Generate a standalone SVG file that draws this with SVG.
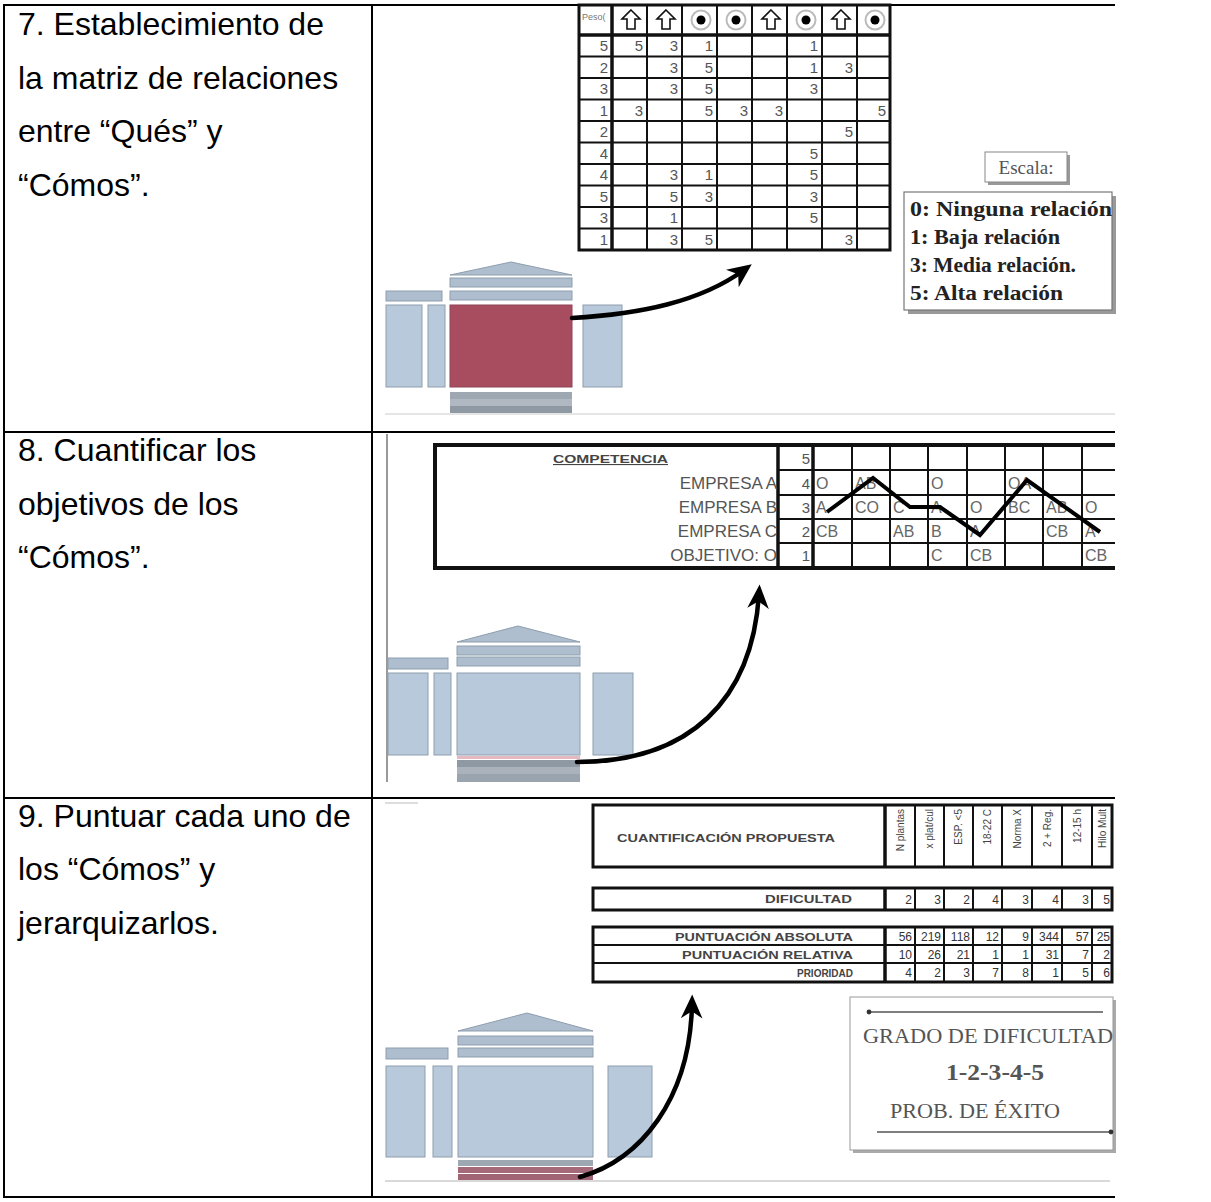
<svg xmlns="http://www.w3.org/2000/svg" width="1211" height="1202" viewBox="0 0 1211 1202">
<defs>
<style>
.step{font-family:"Liberation Sans",Arial,sans-serif;font-size:32px;fill:#000}
.tbl{stroke:#000;stroke-width:2;fill:none}
.g{stroke:#111;stroke-width:2;fill:none}
.gt{stroke:#111;stroke-width:3.5;fill:none}
.num{font-family:"Liberation Sans",Arial,sans-serif;font-size:15px;fill:#555;text-anchor:end}
.lbl{font-family:"Liberation Sans",Arial,sans-serif;font-size:17px;fill:#555}
.cell{font-family:"Liberation Sans",Arial,sans-serif;font-size:16px;fill:#666}
.hb{font-family:"Liberation Sans",Arial,sans-serif;font-size:11px;font-weight:bold;fill:#444}
.v{font-family:"Liberation Sans",Arial,sans-serif;font-size:12px;fill:#333;text-anchor:end}
.rot{font-family:"Liberation Sans",Arial,sans-serif;font-size:10px;fill:#444;text-anchor:end}
.serif{font-family:"Liberation Serif","Times New Roman",serif;fill:#555}
.sb{font-family:"Liberation Serif","Times New Roman",serif;font-weight:bold;font-size:20px;fill:#222}
.blue{fill:#b8c9db;stroke:#8e9dad;stroke-width:1}
.bar{fill:#aebecf;stroke:#8e9dad;stroke-width:1}
.red{fill:#a84c5f;stroke:#8e4455;stroke-width:1}
.arrow{fill:none;stroke:#000;stroke-width:4.5;stroke-linecap:round}
</style>
<marker id="ah" viewBox="0 0 20 20" refX="12" refY="10" markerWidth="24" markerHeight="24" markerUnits="userSpaceOnUse" orient="auto">
<path d="M0,1 L20,10 L0,19 L6,10 z" fill="#000"/>
</marker>
<marker id="dotL" viewBox="0 0 10 10" refX="5" refY="5" markerWidth="6" markerHeight="6" markerUnits="userSpaceOnUse">
<circle cx="5" cy="5" r="4" fill="#333"/>
</marker>
<path id="up" d="M0,-10 L9,-1 L4,-1 L4,9 L-4,9 L-4,-1 L-9,-1 Z" fill="#fff" stroke="#111" stroke-width="1.6"/>
<g id="tgt"><circle r="9.5" fill="#fff" stroke="#bbb" stroke-width="2"/><circle r="4.5" fill="#000"/></g>
</defs>

<rect width="1211" height="1202" fill="#fff"/>

<!-- table frame -->
<g id="table">
<line class="tbl" x1="3" y1="5" x2="1115" y2="5"/>
<line class="tbl" x1="3" y1="432" x2="1115" y2="432"/>
<line class="tbl" x1="3" y1="798" x2="1115" y2="798"/>
<line class="tbl" x1="3" y1="1197" x2="1115" y2="1197"/>
<line class="tbl" x1="4" y1="5" x2="4" y2="1197"/>
<line class="tbl" x1="372" y1="5" x2="372" y2="1197"/>
</g>

<!-- step descriptions -->
<g id="step7">
<text class="step" x="18" y="35">7. Establecimiento de</text>
<text class="step" x="18" y="89">la matriz de relaciones</text>
<text class="step" x="18" y="142">entre “Qués” y</text>
<text class="step" x="18" y="196">“Cómos”.</text>
</g>
<g id="step8">
<text class="step" x="18" y="461">8. Cuantificar los</text>
<text class="step" x="18" y="515">objetivos de los</text>
<text class="step" x="18" y="568">“Cómos”.</text>
</g>
<g id="step9">
<text class="step" x="18" y="827">9. Puntuar cada uno de</text>
<text class="step" x="18" y="880">los “Cómos” y</text>
<text class="step" x="18" y="934">jerarquizarlos.</text>
</g>

<!-- relationship matrix -->
<g id="matrix">
<rect x="579" y="5" width="311" height="245" fill="#fff" stroke="#111" stroke-width="3"/>
<line class="gt" x1="612" y1="5" x2="612" y2="250"/>
<line class="gt" x1="579" y1="35" x2="890" y2="35"/>
<g class="g">
<line x1="647" y1="5" x2="647" y2="250"/><line x1="682" y1="5" x2="682" y2="250"/>
<line x1="717" y1="5" x2="717" y2="250"/><line x1="752" y1="5" x2="752" y2="250"/>
<line x1="787" y1="5" x2="787" y2="250"/><line x1="822" y1="5" x2="822" y2="250"/>
<line x1="857" y1="5" x2="857" y2="250"/>
<line x1="579" y1="56.5" x2="890" y2="56.5"/><line x1="579" y1="78" x2="890" y2="78"/>
<line x1="579" y1="99.5" x2="890" y2="99.5"/><line x1="579" y1="121" x2="890" y2="121"/>
<line x1="579" y1="142.5" x2="890" y2="142.5"/><line x1="579" y1="164" x2="890" y2="164"/>
<line x1="579" y1="185.5" x2="890" y2="185.5"/><line x1="579" y1="207" x2="890" y2="207"/>
<line x1="579" y1="228.5" x2="890" y2="228.5"/>
</g>
<text x="582" y="20" font-family="Liberation Sans, Arial, sans-serif" font-size="9" fill="#777">Peso(</text>
<use href="#up" x="631" y="20"/><use href="#up" x="666" y="20"/>
<use href="#tgt" x="701" y="20"/><use href="#tgt" x="736" y="20"/>
<use href="#up" x="771" y="20"/><use href="#tgt" x="806" y="20"/>
<use href="#up" x="841" y="20"/><use href="#tgt" x="875" y="20"/>
<g class="num">
<text x="608" y="51">5</text><text x="643" y="51">5</text><text x="678" y="51">3</text><text x="713" y="51">1</text><text x="818" y="51">1</text>
<text x="608" y="73">2</text><text x="678" y="73">3</text><text x="713" y="73">5</text><text x="818" y="73">1</text><text x="853" y="73">3</text>
<text x="608" y="94">3</text><text x="678" y="94">3</text><text x="713" y="94">5</text><text x="818" y="94">3</text>
<text x="608" y="116">1</text><text x="643" y="116">3</text><text x="713" y="116">5</text><text x="748" y="116">3</text><text x="783" y="116">3</text><text x="886" y="116">5</text>
<text x="608" y="137">2</text><text x="853" y="137">5</text>
<text x="608" y="159">4</text><text x="818" y="159">5</text>
<text x="608" y="180">4</text><text x="678" y="180">3</text><text x="713" y="180">1</text><text x="818" y="180">5</text>
<text x="608" y="202">5</text><text x="678" y="202">5</text><text x="713" y="202">3</text><text x="818" y="202">3</text>
<text x="608" y="223">3</text><text x="678" y="223">1</text><text x="818" y="223">5</text>
<text x="608" y="245">1</text><text x="678" y="245">3</text><text x="713" y="245">5</text><text x="853" y="245">3</text>
</g>
</g>

<!-- scale legend -->
<g id="scale">
<rect x="988" y="155" width="82" height="30" fill="#999"/>
<rect x="985" y="152" width="82" height="30" fill="#fff" stroke="#888" stroke-width="1"/>
<text class="serif" x="1026" y="174" font-size="19" text-anchor="middle" fill="#444">Escala:</text>
<rect x="908" y="196" width="208" height="118" fill="#999"/>
<rect x="904" y="192" width="208" height="118" fill="#fff" stroke="#777" stroke-width="1.2"/>
<text class="sb" x="910" y="216" textLength="202" lengthAdjust="spacingAndGlyphs">0: Ninguna relación</text>
<text class="sb" x="910" y="244" textLength="150" lengthAdjust="spacingAndGlyphs">1: Baja relación</text>
<text class="sb" x="910" y="272" textLength="166" lengthAdjust="spacingAndGlyphs">3: Media relación.</text>
<text class="sb" x="910" y="300" textLength="153" lengthAdjust="spacingAndGlyphs">5: Alta relación</text>
</g>

<!-- house 1: relationship matrix highlighted -->
<g id="house1">
<polygon class="bar" points="450,275 511,262 572,275"/>
<rect class="bar" x="450" y="278" width="122" height="9"/>
<rect class="bar" x="450" y="291" width="122" height="9"/>
<rect class="bar" x="386" y="291" width="56" height="10"/>
<rect class="blue" x="386" y="305" width="36" height="82"/>
<rect class="blue" x="428" y="305" width="17" height="82"/>
<rect class="red" x="450" y="305" width="122" height="82"/>
<rect class="blue" x="583" y="305" width="39" height="82"/>
<rect x="450" y="392" width="122" height="7" fill="#9ea8b3"/>
<rect x="450" y="399" width="122" height="7" fill="#b0b9c2"/>
<rect x="450" y="406" width="122" height="7" fill="#8f99a4"/>
<line x1="385" y1="414" x2="1115" y2="414" stroke="#ddd" stroke-width="1.5"/>
</g>

<!-- competition benchmark -->
<g id="competencia">
<rect x="435" y="445" width="700" height="123" fill="#fff"/>
<path d="M1115,445 H435 V568 H1115" fill="none" stroke="#111" stroke-width="4"/>
<line class="gt" x1="778" y1="445" x2="778" y2="568"/>
<line class="gt" x1="813" y1="445" x2="813" y2="568"/>
<g class="g">
<line x1="852" y1="445" x2="852" y2="568"/><line x1="890" y1="445" x2="890" y2="568"/>
<line x1="928" y1="445" x2="928" y2="568"/><line x1="967" y1="445" x2="967" y2="568"/>
<line x1="1005" y1="445" x2="1005" y2="568"/><line x1="1043" y1="445" x2="1043" y2="568"/>
<line x1="1082" y1="445" x2="1082" y2="568"/>
<line x1="778" y1="470" x2="1115" y2="470"/><line x1="778" y1="495" x2="1115" y2="495"/>
<line x1="778" y1="519" x2="1115" y2="519"/><line x1="778" y1="543" x2="1115" y2="543"/>
</g>
<text class="hb" x="553" y="463" textLength="115" lengthAdjust="spacingAndGlyphs" text-decoration="underline" fill="#555">COMPETENCIA</text>
<g class="lbl" text-anchor="end">
<text x="777" y="489">EMPRESA A</text>
<text x="777" y="513">EMPRESA B</text>
<text x="777" y="537">EMPRESA C</text>
<text x="777" y="561">OBJETIVO: O</text>
</g>
<g class="num" font-size="16">
<text x="810" y="464">5</text><text x="810" y="489">4</text><text x="810" y="513">3</text>
<text x="810" y="537">2</text><text x="810" y="561">1</text>
</g>
<g class="cell">
<text x="816" y="489">O</text><text x="855" y="489">AB</text><text x="931" y="489">O</text><text x="1008" y="489">OA</text>
<text x="816" y="513">A</text><text x="855" y="513">CO</text><text x="893" y="513">C</text><text x="931" y="513">A</text>
<text x="970" y="513">O</text><text x="1008" y="513">BC</text><text x="1046" y="513">AB</text><text x="1085" y="513">O</text>
<text x="816" y="537">CB</text><text x="893" y="537">AB</text><text x="931" y="537">B</text><text x="970" y="537">A</text>
<text x="1046" y="537">CB</text><text x="1085" y="537">A</text>
<text x="931" y="561">C</text><text x="970" y="561">CB</text><text x="1085" y="561">CB</text>
</g>
<polyline points="827,512 873,478 910,507 940,507 980,535 1027,480 1100,532" fill="none" stroke="#000" stroke-width="4" stroke-linejoin="miter"/>
</g>

<!-- house 2: target values highlighted -->
<g id="house2">
<line x1="387" y1="434" x2="387" y2="782" stroke="#999" stroke-width="2"/>
<polygon class="bar" points="457,642 518,626 580,642"/>
<rect class="bar" x="457" y="646" width="123" height="9"/>
<rect class="bar" x="457" y="657" width="123" height="9"/>
<rect class="bar" x="388" y="658" width="60" height="11"/>
<rect class="blue" x="388" y="673" width="40" height="82"/>
<rect class="blue" x="434" y="673" width="17" height="82"/>
<rect class="blue" x="457" y="673" width="123" height="82"/>
<rect class="blue" x="593" y="673" width="40" height="82"/>
<rect x="457" y="756" width="123" height="3" fill="#e6b8c0"/>
<rect x="457" y="760" width="123" height="7" fill="#8f99a4"/>
<rect x="457" y="767" width="123" height="7" fill="#aab3bc"/>
<rect x="457" y="774" width="123" height="8" fill="#9aa4ae"/>
</g>

<!-- proposed quantification and scoring -->
<g id="puntuacion">
<line x1="385" y1="803" x2="418" y2="803" stroke="#ddd" stroke-width="2"/>
<rect x="593" y="805" width="519" height="62" fill="#fff" stroke="#111" stroke-width="3"/>
<line class="gt" x1="885" y1="805" x2="885" y2="867"/>
<g class="g">
<line x1="915" y1="805" x2="915" y2="867"/><line x1="944" y1="805" x2="944" y2="867"/>
<line x1="973" y1="805" x2="973" y2="867"/><line x1="1002" y1="805" x2="1002" y2="867"/>
<line x1="1032" y1="805" x2="1032" y2="867"/><line x1="1062" y1="805" x2="1062" y2="867"/>
<line x1="1092" y1="805" x2="1092" y2="867"/>
</g>
<text class="hb" x="617" y="842" textLength="218" lengthAdjust="spacingAndGlyphs">CUANTIFICACIÓN PROPUESTA</text>
<g class="rot">
<text transform="translate(904,809) rotate(-90)">N plantas</text>
<text transform="translate(933,809) rotate(-90)">x plat/cul</text>
<text transform="translate(962,809) rotate(-90)">ESP. &lt;5</text>
<text transform="translate(991,809) rotate(-90)">18-22 C</text>
<text transform="translate(1021,809) rotate(-90)">Norma X</text>
<text transform="translate(1051,809) rotate(-90)">2 + Reg.</text>
<text transform="translate(1081,809) rotate(-90)">12-15 h</text>
<text transform="translate(1106,809) rotate(-90)">Hilo Mult</text>
</g>

<rect x="593" y="888" width="519" height="22" fill="#fff" stroke="#111" stroke-width="3"/>
<line class="gt" x1="885" y1="888" x2="885" y2="910"/>
<g class="g">
<line x1="915" y1="888" x2="915" y2="910"/><line x1="944" y1="888" x2="944" y2="910"/>
<line x1="973" y1="888" x2="973" y2="910"/><line x1="1002" y1="888" x2="1002" y2="910"/>
<line x1="1032" y1="888" x2="1032" y2="910"/><line x1="1062" y1="888" x2="1062" y2="910"/>
<line x1="1092" y1="888" x2="1092" y2="910"/>
</g>
<text class="hb" x="765" y="903" textLength="87" lengthAdjust="spacingAndGlyphs">DIFICULTAD</text>
<g class="v">
<text x="912" y="904">2</text><text x="941" y="904">3</text><text x="970" y="904">2</text><text x="999" y="904">4</text>
<text x="1029" y="904">3</text><text x="1059" y="904">4</text><text x="1089" y="904">3</text><text x="1110" y="904">5</text>
</g>

<rect x="593" y="927" width="519" height="55" fill="#fff" stroke="#111" stroke-width="3"/>
<line class="gt" x1="885" y1="927" x2="885" y2="982"/>
<g class="g">
<line x1="593" y1="945" x2="1112" y2="945"/><line x1="593" y1="963" x2="1112" y2="963"/>
<line x1="915" y1="927" x2="915" y2="982"/><line x1="944" y1="927" x2="944" y2="982"/>
<line x1="973" y1="927" x2="973" y2="982"/><line x1="1002" y1="927" x2="1002" y2="982"/>
<line x1="1032" y1="927" x2="1032" y2="982"/><line x1="1062" y1="927" x2="1062" y2="982"/>
<line x1="1092" y1="927" x2="1092" y2="982"/>
</g>
<text class="hb" x="675" y="941" textLength="178" lengthAdjust="spacingAndGlyphs">PUNTUACIÓN ABSOLUTA</text>
<text class="hb" x="682" y="959" textLength="171" lengthAdjust="spacingAndGlyphs">PUNTUACIÓN RELATIVA</text>
<text class="hb" x="797" y="977" textLength="56" lengthAdjust="spacingAndGlyphs">PRIORIDAD</text>
<g class="v">
<text x="912" y="941">56</text><text x="941" y="941">219</text><text x="970" y="941">118</text><text x="999" y="941">12</text>
<text x="1029" y="941">9</text><text x="1059" y="941">344</text><text x="1089" y="941">57</text><text x="1110" y="941">25</text>
<text x="912" y="959">10</text><text x="941" y="959">26</text><text x="970" y="959">21</text><text x="999" y="959">1</text>
<text x="1029" y="959">1</text><text x="1059" y="959">31</text><text x="1089" y="959">7</text><text x="1110" y="959">2</text>
<text x="912" y="977">4</text><text x="941" y="977">2</text><text x="970" y="977">3</text><text x="999" y="977">7</text>
<text x="1029" y="977">8</text><text x="1059" y="977">1</text><text x="1089" y="977">5</text><text x="1110" y="977">6</text>
</g>
</g>

<!-- difficulty legend -->
<g id="dificultad">
<rect x="853" y="1000" width="263" height="153" fill="#aaa"/>
<rect x="850" y="997" width="263" height="153" fill="#fff" stroke="#999" stroke-width="1"/>
<line x1="869" y1="1012" x2="1103" y2="1012" stroke="#555" stroke-width="1.5" marker-start="url(#dotL)"/>
<text class="serif" x="863" y="1043" font-size="20" textLength="250" lengthAdjust="spacingAndGlyphs">GRADO DE DIFICULTAD</text>
<text class="serif" x="946" y="1080" font-size="24" font-weight="bold" fill="#222" textLength="98" lengthAdjust="spacingAndGlyphs">1-2-3-4-5</text>
<text class="serif" x="890" y="1118" font-size="20" textLength="170" lengthAdjust="spacingAndGlyphs">PROB. DE ÉXITO</text>
<line x1="877" y1="1132" x2="1111" y2="1132" stroke="#555" stroke-width="1.5" marker-end="url(#dotL)"/>
</g>

<!-- house 3: technical priorities highlighted -->
<g id="house3">
<polygon class="bar" points="458,1031 527,1013 593,1031"/>
<rect class="bar" x="458" y="1036" width="135" height="9"/>
<rect class="bar" x="458" y="1048" width="135" height="9"/>
<rect class="bar" x="386" y="1048" width="62" height="11"/>
<rect class="blue" x="386" y="1066" width="39" height="91"/>
<rect class="blue" x="433" y="1066" width="19" height="91"/>
<rect class="blue" x="458" y="1066" width="135" height="91"/>
<rect class="blue" x="608" y="1066" width="44" height="91"/>
<rect x="458" y="1160" width="135" height="6" fill="#9ea8b2"/>
<rect x="458" y="1167" width="135" height="6" fill="#a56a79"/>
<rect x="458" y="1174" width="135" height="6" fill="#a06474"/>
<line x1="385" y1="1181" x2="1110" y2="1181" stroke="#ccc" stroke-width="1.5"/>
</g>

<!-- connectors -->
<g id="connectors">
<path class="arrow" d="M572,318 C640,314 700,302 744,270" marker-end="url(#ah)"/>
<path class="arrow" d="M577,762 C690,762 752,700 759,594" marker-end="url(#ah)"/>
<path class="arrow" d="M580,1177 C640,1160 690,1100 692,1004" marker-end="url(#ah)"/>
</g>
</svg>
